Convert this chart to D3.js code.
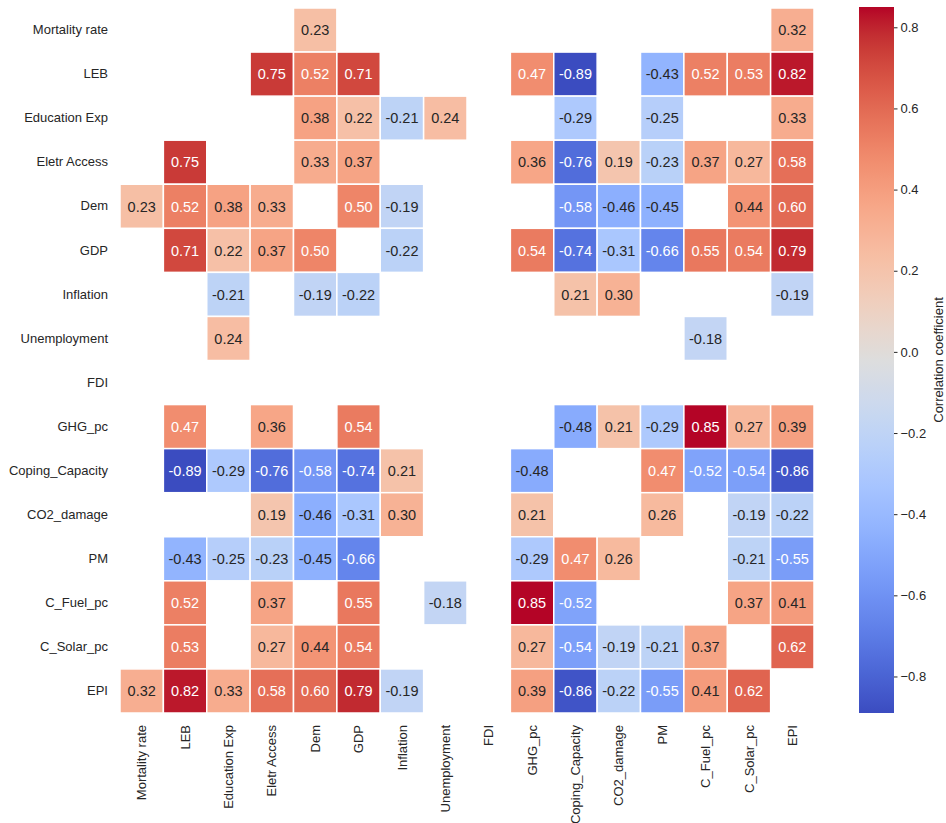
<!DOCTYPE html>
<html>
<head>
<meta charset="utf-8">
<script src="https://cdn.jsdelivr.net/npm/d3@7"></script>
<style>
  body { margin: 0; background: #fff; }
  text { font-family: "Liberation Sans", Arial, sans-serif; }
</style>
</head>
<body>
<svg id="chart" width="946" height="823"></svg>
<script>
// Variables in row/column order
const variables = [
  "Mortality rate", "LEB", "Education Exp", "Eletr Access", "Dem", "GDP",
  "Inflation", "Unemployment", "FDI", "GHG_pc", "Coping_Capacity",
  "CO2_damage", "PM", "C_Fuel_pc", "C_Solar_pc", "EPI"
];

// Pairwise correlation coefficients; null = weak correlation or diagonal (not drawn)
const n = null;
const correlations = [
  [n, n, n, n, 0.23, n, n, n, n, n, n, n, n, n, n, 0.32],
  [n, n, n, 0.75, 0.52, 0.71, n, n, n, 0.47, -0.89, n, -0.43, 0.52, 0.53, 0.82],
  [n, n, n, n, 0.38, 0.22, -0.21, 0.24, n, n, -0.29, n, -0.25, n, n, 0.33],
  [n, 0.75, n, n, 0.33, 0.37, n, n, n, 0.36, -0.76, 0.19, -0.23, 0.37, 0.27, 0.58],
  [0.23, 0.52, 0.38, 0.33, n, 0.50, -0.19, n, n, n, -0.58, -0.46, -0.45, n, 0.44, 0.60],
  [n, 0.71, 0.22, 0.37, 0.50, n, -0.22, n, n, 0.54, -0.74, -0.31, -0.66, 0.55, 0.54, 0.79],
  [n, n, -0.21, n, -0.19, -0.22, n, n, n, n, 0.21, 0.30, n, n, n, -0.19],
  [n, n, 0.24, n, n, n, n, n, n, n, n, n, n, -0.18, n, n],
  [n, n, n, n, n, n, n, n, n, n, n, n, n, n, n, n],
  [n, 0.47, n, 0.36, n, 0.54, n, n, n, n, -0.48, 0.21, -0.29, 0.85, 0.27, 0.39],
  [n, -0.89, -0.29, -0.76, -0.58, -0.74, 0.21, n, n, -0.48, n, n, 0.47, -0.52, -0.54, -0.86],
  [n, n, n, 0.19, -0.46, -0.31, 0.30, n, n, 0.21, n, n, 0.26, n, -0.19, -0.22],
  [n, -0.43, -0.25, -0.23, -0.45, -0.66, n, n, n, -0.29, 0.47, 0.26, n, n, -0.21, -0.55],
  [n, 0.52, n, 0.37, n, 0.55, n, -0.18, n, 0.85, -0.52, n, n, n, 0.37, 0.41],
  [n, 0.53, n, 0.27, 0.44, 0.54, n, n, n, 0.27, -0.54, -0.19, -0.21, 0.37, n, 0.62],
  [0.32, 0.82, 0.33, 0.58, 0.60, 0.79, -0.19, n, n, 0.39, -0.86, -0.22, -0.55, 0.41, 0.62, n]
];

const colorbarTicks = [-0.8, -0.6, -0.4, -0.2, 0.0, 0.2, 0.4, 0.6, 0.8];
const colorbarLabel = "Correlation coefficient";

// Diverging cool-warm palette control colours (blue -> grey -> red)
const coolwarmStops = [
  "#3b4cc0", "#445acc", "#4d68d7", "#5775e1", "#6282ea", "#6c8ef1", "#779af7",
  "#82a5fb", "#8db0fe", "#98b9ff", "#a3c2ff", "#aec9fd", "#b8d0f9", "#c2d5f4",
  "#ccd9ee", "#d5dbe6", "#dddddd", "#e5d8d1", "#ecd3c5", "#f1ccb8", "#f5c4ac",
  "#f7bba0", "#f7b194", "#f7a687", "#f49a7b", "#f18d6f", "#ec7f63", "#e57058",
  "#de604d", "#d55042", "#cb3e38", "#c0282f", "#b40426"
];

// ---- layout ----
const svg = d3.select("#chart");
const plot = { left: 120, right: 814, top: 8, bottom: 713 };
const cbar = { x: 859, width: 35, top: 7, bottom: 713 };
const labelSize = "13px";

const cells = [];
correlations.forEach((row, i) => row.forEach((v, j) => {
  if (v !== null) cells.push({ row: variables[i], col: variables[j], value: v });
}));
const allValues = cells.map(d => d.value);
const vmin = d3.min(allValues), vmax = d3.max(allValues);

const coolwarm = d3.scaleLinear()
  .domain(coolwarmStops.map((_, i) => i / (coolwarmStops.length - 1)))
  .range(coolwarmStops)
  .interpolate(d3.interpolateRgb);
const norm = d3.scaleLinear().domain([vmin, vmax]).range([0, 1]).clamp(true);
const colorOf = v => coolwarm(norm(v));

// relative luminance decides dark or light annotation text
function luminance(c) {
  const rgb = d3.rgb(c);
  const lin = x => { x /= 255; return x <= 0.03928 ? x / 12.92 : Math.pow((x + 0.055) / 1.055, 2.4); };
  return 0.2126 * lin(rgb.r) + 0.7152 * lin(rgb.g) + 0.0722 * lin(rgb.b);
}

const x = d3.scaleBand().domain(variables).range([plot.left, plot.right]);
const y = d3.scaleBand().domain(variables).range([plot.top, plot.bottom]);

// ---- heatmap cells ----
const g = svg.append("g");
g.selectAll("rect.cell").data(cells).join("rect")
  .attr("class", "cell")
  .attr("x", d => x(d.col))
  .attr("y", d => y(d.row))
  .attr("width", x.bandwidth())
  .attr("height", y.bandwidth())
  .attr("fill", d => colorOf(d.value))
  .attr("stroke", "#fff")
  .attr("stroke-width", 1.5);

g.selectAll("text.annot").data(cells).join("text")
  .attr("class", "annot")
  .attr("x", d => x(d.col) + x.bandwidth() / 2)
  .attr("y", d => y(d.row) + y.bandwidth() / 2)
  .attr("dy", "0.36em")
  .attr("text-anchor", "middle")
  .style("font-size", "14.5px")
  .attr("fill", d => luminance(colorOf(d.value)) > 0.408 ? "#262626" : "#ffffff")
  .text(d => d.value.toFixed(2));

// ---- axes ----
const yAxis = svg.append("g")
  .attr("transform", `translate(${plot.left},0)`)
  .call(d3.axisLeft(y).tickSize(0).tickPadding(12));
yAxis.select(".domain").remove();
yAxis.selectAll("text").style("font-size", labelSize).attr("fill", "#262626");

const xAxis = svg.append("g")
  .attr("transform", `translate(0,${plot.bottom})`)
  .call(d3.axisBottom(x).tickSize(0));
xAxis.select(".domain").remove();
xAxis.selectAll("text")
  .style("font-size", labelSize)
  .attr("fill", "#262626")
  .attr("transform", "rotate(-90)")
  .attr("x", -12)
  .attr("y", 0)
  .attr("dy", "0.35em")
  .style("text-anchor", "end");

// ---- colour bar ----
const defs = svg.append("defs");
const grad = defs.append("linearGradient")
  .attr("id", "cbar-grad")
  .attr("x1", 0).attr("y1", 1).attr("x2", 0).attr("y2", 0);
d3.range(0, 1.0001, 0.02).forEach(t => {
  grad.append("stop").attr("offset", t).attr("stop-color", coolwarm(t));
});
svg.append("rect")
  .attr("x", cbar.x).attr("y", cbar.top)
  .attr("width", cbar.width).attr("height", cbar.bottom - cbar.top)
  .attr("fill", "url(#cbar-grad)");

const cy = d3.scaleLinear().domain([vmin, vmax]).range([cbar.bottom, cbar.top]);
const cAxis = svg.append("g")
  .attr("transform", `translate(${cbar.x + cbar.width},0)`)
  .call(d3.axisRight(cy).tickValues(colorbarTicks).tickSize(3.5).tickPadding(3).tickFormat(d3.format(".1f")));
cAxis.select(".domain").remove();
cAxis.selectAll("line").attr("stroke", "#262626");
cAxis.selectAll("text").style("font-size", labelSize).attr("fill", "#262626");

svg.append("text")
  .attr("transform", `translate(938,${(cbar.top + cbar.bottom) / 2}) rotate(-90)`)
  .attr("text-anchor", "middle")
  .attr("dy", "0.35em")
  .style("font-size", labelSize)
  .attr("fill", "#262626")
  .text(colorbarLabel);
</script>
</body>
</html>
